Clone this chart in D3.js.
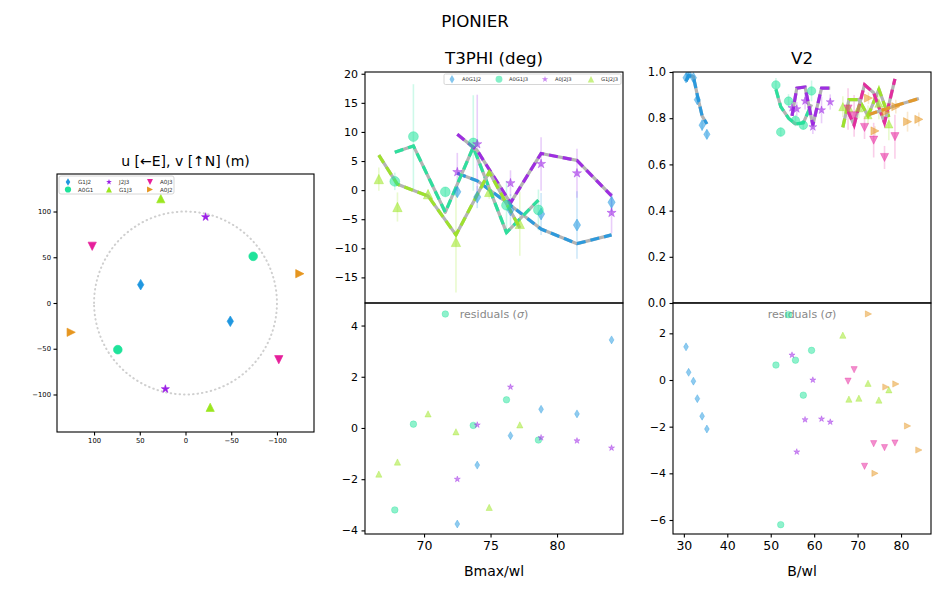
<!DOCTYPE html>
<html>
<head>
<meta charset="utf-8">
<script src="https://cdn.jsdelivr.net/npm/d3@7"></script>
<style>
  body { margin: 0; background: #fff; }
  text { font-family: "DejaVu Sans", sans-serif; }
</style>
</head>
<body>
<svg id="fig" width="950" height="600"></svg>
<script>
// ─── Colours / markers ────────────────────────────────────────────────────────
const BLUE = '#1f97e0', GREEN = '#1fe39a', PURPLE = '#9b1fe6',
      LIME = '#9be61f', PINK = '#e61f9b', ORANGE = '#e6961f';

// ─── uv coverage (m) ──────────────────────────────────────────────────────────
const uvNames   = ['G1J2', 'A0G1', 'J2J3', 'G1J3', 'A0J3', 'A0J2'];
const uvColors  = [BLUE, GREEN, PURPLE, LIME, PINK, ORANGE];
const uvMarkers = ['d', 'o', '*', '^', 'v', '>'];
const uvU = [49, -74, -22, 27, 102, -125];
const uvV = [20, 51, 94, 114, 62, 32];
const uvTicks = [100, 50, 0, -50, -100];

// ─── T3PHI (deg) ──────────────────────────────────────────────────────────────
const t3Names   = ['A0G1J2', 'A0G1J3', 'A0J2J3', 'G1J2J3'];
const t3Colors  = [BLUE, GREEN, PURPLE, LIME];
const t3Markers = ['d', 'o', '*', '^'];
const t3X = [
  [72.5, 74.0, 76.5, 78.8, 81.5, 84.1],
  [67.8, 69.2, 71.6, 73.7, 76.2, 78.6],
  [72.5, 74.0, 76.5, 78.8, 81.5, 84.1],
  [66.6, 68.0, 70.3, 72.4, 74.9, 77.2],
];
const t3Obs = [
  [-0.3, -1.2, -3.4, -4.1, -6.0, -2.1],
  [1.5, 9.2, -0.3, 8.1, -2.6, -3.4],
  [3.1, 7.9, 1.2, 4.5, 2.9, -3.9],
  [1.9, -2.9, -0.7, -8.9, -0.3, -5.8],
];
const t3Err = [
  [0.9, 1.9, 2.7, 3.6, 5.8, 1.6],
  [1.5, 9.0, 0.8, 8.2, 4.2, 3.5],
  [3.3, 8.5, 2.2, 4.6, 4.2, 3.5],
  [2.0, 2.5, 0.8, 8.7, 1.2, 5.5],
];
const t3Model = [
  [2.9, 1.6, -2.6, -6.7, -9.2, -7.7],
  [6.5, 7.6, -3.8, 7.4, -7.3, -1.7],
  [9.6, 6.8, -2.2, 6.3, 5.1, -1.0],
  [6.0, 1.0, -1.0, -7.7, 3.1, -6.5],
];
const t3Res = [
  [-3.75, -1.45, -0.3, 0.73, 0.55, 3.44],
  [-3.2, 0.15, 4.45, 0.1, 1.1, -0.47],
  [-2.0, 0.12, 1.6, -0.38, -0.5, -0.78],
  [-1.8, -1.33, 0.55, -0.15, -3.1, 0.12],
];
const t3YTicks = [20, 15, 10, 5, 0, -5, -10, -15];
const t3ResTicks = [4, 2, 0, -2, -4];
const t3XTicks = [70, 75, 80];

// ─── V2 ───────────────────────────────────────────────────────────────────────
const v2X = [
  [30.5, 31.1, 32.2, 33.1, 34.2, 35.3],
  [51.2, 52.3, 54.1, 55.7, 57.5, 59.4],
  [54.9, 56.0, 57.9, 59.7, 61.7, 63.7],
  [66.6, 68.0, 70.3, 72.4, 74.9, 77.2],
  [67.8, 69.2, 71.6, 73.7, 76.2, 78.6],
  [72.5, 74.0, 76.5, 78.8, 81.5, 84.1],
];
const v2Obs = [
  [0.975, 0.99, 0.975, 0.88, 0.77, 0.73],
  [0.944, 0.74, 0.874, 0.79, 0.77, 0.918],
  [0.845, 0.84, 0.874, 0.762, 0.835, 0.87],
  [0.85, 0.845, 0.845, 0.815, 0.865, 0.775],
  [0.84, 0.81, 0.76, 0.705, 0.63, 0.72],
  [0.887, 0.745, 0.827, 0.85, 0.785, 0.795],
];
const v2Err = [
  [0.01, 0.015, 0.01, 0.02, 0.025, 0.02],
  [0.03, 0.02, 0.03, 0.025, 0.02, 0.045],
  [0.03, 0.03, 0.036, 0.03, 0.057, 0.033],
  [0.045, 0.04, 0.045, 0.04, 0.07, 0.07],
  [0.09, 0.09, 0.05, 0.075, 0.05, 0.095],
  [0.025, 0.02, 0.04, 0.03, 0.043, 0.03],
];
const v2Model = [
  [0.96, 0.985, 0.98, 0.90, 0.81, 0.775],
  [0.925, 0.85, 0.80, 0.775, 0.78, 0.86],
  [0.81, 0.93, 0.935, 0.77, 0.93, 0.93],
  [0.76, 0.88, 0.88, 0.81, 0.925, 0.805],
  [0.83, 0.77, 0.945, 0.91, 0.78, 0.97],
  [0.815, 0.825, 0.84, 0.855, 0.87, 0.885],
];
const v2Res = [
  [1.42, 0.33, -0.05, -0.8, -1.55, -2.1],
  [0.64, -6.2, 2.8, 0.85, -0.65, 1.27],
  [1.07, -3.08, -1.7, 0.0, -1.67, -1.8],
  [1.92, -0.82, -0.78, -0.14, -0.86, -0.42],
  [-0.05, 0.44, -3.7, -2.73, -2.9, -2.7],
  [2.83, -4.0, -0.3, -0.17, -1.97, -3.0],
];
const v2YTicks = [0, 0.2, 0.4, 0.6, 0.8, 1.0];
const v2ResTicks = [2, 0, -2, -4, -6];
const v2XTicks = [30, 40, 50, 60, 70, 80];

// ─── Marker shapes (matplotlib-like) ──────────────────────────────────────────
function markerPath(m, r) {
  switch (m) {
    case 'd': return `M0,${-r}L${0.6 * r},0L0,${r}L${-0.6 * r},0Z`;
    case 'o': return `M${r},0A${r},${r} 0 1,1 ${-r},0A${r},${r} 0 1,1 ${r},0Z`;
    case '^': return `M0,${-r}L${r},${r}L${-r},${r}Z`;
    case 'v': return `M0,${r}L${r},${-r}L${-r},${-r}Z`;
    case '>': return `M${r},0L${-r},${-r}L${-r},${r}Z`;
    case '*': {
      const pts = [];
      for (let i = 0; i < 10; i++) {
        const a = -Math.PI / 2 + i * Math.PI / 5;
        const rr = i % 2 ? r * 0.382 : r;
        pts.push([rr * Math.cos(a), rr * Math.sin(a)]);
      }
      return 'M' + pts.map(p => p.join(',')).join('L') + 'Z';
    }
  }
}
const SIZE_SCALE = { d: 1.0, o: 0.82, '*': 0.8, '^': 0.78, 'v': 0.78, '>': 0.78 };

const svg = d3.select('#fig');

function frame(left, top, w, h) {
  svg.append('rect').attr('x', left).attr('y', top).attr('width', w).attr('height', h)
    .attr('fill', 'none').attr('stroke', '#000').attr('stroke-width', 1.1);
}

function styleAxis(g, size) {
  g.select('.domain').remove();
  g.selectAll('line').attr('stroke', '#000').attr('stroke-width', 1.1);
  g.selectAll('text').attr('font-size', size).attr('fill', '#000')
    .attr('font-family', '"DejaVu Sans", sans-serif');
}

function drawMarkers(g, xs, ys, x, y, m, r, color, opacity) {
  g.append('g').selectAll('path').data(xs.map((d, i) => [d, ys[i]])).join('path')
    .attr('transform', d => `translate(${x(d[0])},${y(d[1])})`)
    .attr('d', markerPath(m, r * SIZE_SCALE[m]))
    .attr('fill', color).attr('fill-opacity', opacity)
    .attr('stroke', color).attr('stroke-opacity', opacity * 0.8).attr('stroke-width', 0.8);
}

function drawModel(g, xs, ys, x, y, color) {
  const line = d3.line().x((d, i) => x(xs[i])).y(d => y(d));
  g.append('path').attr('d', line(ys)).attr('fill', 'none')
    .attr('stroke', '#b4b4b4').attr('stroke-width', 3.2).attr('stroke-linejoin', 'round');
  g.append('path').attr('d', line(ys)).attr('fill', 'none')
    .attr('stroke', color).attr('stroke-width', 3.2).attr('stroke-dasharray', '9,5')
    .attr('stroke-opacity', 0.9);
}

function drawErr(g, xs, ys, es, x, y, color) {
  g.append('g').selectAll('line').data(xs.map((d, i) => [d, ys[i], es[i]])).join('line')
    .attr('x1', d => x(d[0])).attr('x2', d => x(d[0]))
    .attr('y1', d => y(d[1] - d[2])).attr('y2', d => y(d[1] + d[2]))
    .attr('stroke', color).attr('stroke-opacity', 0.22).attr('stroke-width', 1.6);
}

// ─── Suptitle ─────────────────────────────────────────────────────────────────
svg.append('text').attr('x', 475).attr('y', 27).attr('text-anchor', 'middle')
  .attr('font-size', 16.7).text('PIONIER');

// ─── Panel 1: uv plane ────────────────────────────────────────────────────────
{
  const L = 57, T = 174, W = 257, H = 258;
  const x = d3.scaleLinear().domain([140.5, -140.5]).range([L, L + W]);
  const y = d3.scaleLinear().domain([-141, 141]).range([T + H, T]);
  const clip = svg.append('clipPath').attr('id', 'clipUV');
  clip.append('rect').attr('x', L).attr('y', T).attr('width', W).attr('height', H);
  const g = svg.append('g').attr('clip-path', 'url(#clipUV)');

  const circ = d3.range(0, 361, 2).map(a => [100 * Math.cos(a * Math.PI / 180), 100 * Math.sin(a * Math.PI / 180)]);
  g.append('path').attr('d', d3.line().x(d => x(d[0])).y(d => y(d[1]))(circ))
    .attr('fill', 'none').attr('stroke', '#cfcfcf').attr('stroke-width', 2)
    .attr('stroke-dasharray', '0.5,4').attr('stroke-linecap', 'round');

  uvNames.forEach((n, i) => {
    drawMarkers(g, [uvU[i], -uvU[i]], [uvV[i], -uvV[i]], x, y, uvMarkers[i], 5.3, uvColors[i], 1);
  });
  frame(L, T, W, H);

  svg.append('g').attr('transform', `translate(0,${T + H})`)
    .call(d3.axisBottom(x).tickValues(uvTicks).tickSize(3.5).tickPadding(2.5))
    .call(a => styleAxis(a, 6.8));
  svg.append('g').attr('transform', `translate(${L},0)`)
    .call(d3.axisLeft(y).tickValues(uvTicks).tickSize(3.5).tickPadding(2.5))
    .call(a => styleAxis(a, 6.8));

  svg.append('text').attr('x', L + W / 2).attr('y', 166).attr('text-anchor', 'middle')
    .attr('font-size', 14).text('u [\u2190E], v [\u2191N] (m)');

  // legend
  const lg = svg.append('g');
  lg.append('rect').attr('x', 59).attr('y', 176).attr('width', 115).attr('height', 18).attr('rx', 2)
    .attr('fill', '#fff').attr('fill-opacity', 0.8).attr('stroke', '#ccc').attr('stroke-width', 0.8);
  uvNames.forEach((n, i) => {
    const col = Math.floor(i / 2), row = i % 2;
    const mx = 68 + col * 41, my = 182 + row * 7.5;
    lg.append('path').attr('transform', `translate(${mx},${my})`)
      .attr('d', markerPath(uvMarkers[i], 3.8 * SIZE_SCALE[uvMarkers[i]])).attr('fill', uvColors[i]);
    lg.append('text').attr('x', mx + 10).attr('y', my + 2).attr('font-size', 5.6).attr('fill', '#333').text(n);
  });
}

// ─── Generic data/residual panel ──────────────────────────────────────────────
function dataPanel(opt) {
  const L = opt.left, W = 258, T = 72, H1 = 231, T2 = 303, H2 = 231;
  const x = d3.scaleLinear().domain(opt.xDomain).range([L, L + W]);
  const y = d3.scaleLinear().domain(opt.yDomain).range([T + H1, T]);
  const yr = d3.scaleLinear().domain(opt.rDomain).range([T2 + H2, T2]);
  const id = 'clip' + opt.key;
  svg.append('clipPath').attr('id', id + 'a').append('rect')
    .attr('x', L).attr('y', T).attr('width', W).attr('height', H1);
  svg.append('clipPath').attr('id', id + 'b').append('rect')
    .attr('x', L).attr('y', T2).attr('width', W).attr('height', H2);
  const g1 = svg.append('g').attr('clip-path', `url(#${id}a)`);
  const g2 = svg.append('g').attr('clip-path', `url(#${id}b)`);

  if (opt.zeroLine) {
    g1.append('line').attr('x1', L).attr('x2', L + W).attr('y1', y(0)).attr('y2', y(0))
      .attr('stroke', '#bbb').attr('stroke-width', 2);
  }
  opt.xs.forEach((xs, i) => drawErr(g1, xs, opt.obs[i], opt.err[i], x, y, opt.colors[i]));
  opt.xs.forEach((xs, i) => drawModel(g1, xs, opt.model[i], x, y, opt.colors[i]));
  opt.xs.forEach((xs, i) => drawMarkers(g1, xs, opt.obs[i], x, y, opt.markers[i], opt.mSize, opt.colors[i], 0.55));

  g2.append('text').attr('x', L + W / 2).attr('y', 318).attr('text-anchor', 'middle')
    .attr('font-size', 11).attr('fill', '#888')
    .html('residuals (<tspan font-style="italic">\u03c3</tspan>)');
  opt.xs.forEach((xs, i) => drawMarkers(g2, xs, opt.res[i], x, yr, opt.markers[i], opt.rSize, opt.colors[i], 0.5));

  frame(L, T, W, H1);
  frame(L, T2, W, H2);

  svg.append('g').attr('transform', `translate(${L},0)`)
    .call(d3.axisLeft(y).tickValues(opt.yTicks).tickFormat(opt.yFormat).tickSize(3.5).tickPadding(3.5))
    .call(a => styleAxis(a, opt.yFont));
  svg.append('g').attr('transform', `translate(${L},0)`)
    .call(d3.axisLeft(yr).tickValues(opt.rTicks).tickSize(3.5).tickPadding(3.5))
    .call(a => styleAxis(a, opt.rFont));
  svg.append('g').attr('transform', `translate(0,${T2 + H2})`)
    .call(d3.axisBottom(x).tickValues(opt.xTicks).tickSize(3.5).tickPadding(3.5))
    .call(a => styleAxis(a, 12.5));

  svg.append('text').attr('x', L + W / 2).attr('y', 64).attr('text-anchor', 'middle')
    .attr('font-size', 16.7).text(opt.title);
  svg.append('text').attr('x', L + W / 2).attr('y', 576).attr('text-anchor', 'middle')
    .attr('font-size', 14).text(opt.xLabel);
  return { x, y, yr };
}

// ─── Panel 2: T3PHI ───────────────────────────────────────────────────────────
dataPanel({
  key: 't3', left: 365, title: 'T3PHI (deg)', xLabel: 'Bmax/wl',
  xDomain: [65.56, 84.96], yDomain: [-19.4, 20.3], rDomain: [-4.14, 4.88],
  xs: t3X, obs: t3Obs, err: t3Err, model: t3Model, res: t3Res,
  colors: t3Colors, markers: t3Markers, mSize: 6, rSize: 4,
  yTicks: t3YTicks, rTicks: t3ResTicks, xTicks: t3XTicks, yFormat: d3.format('d'),
  yFont: 11, rFont: 11,
});
{
  const lg = svg.append('g');
  lg.append('rect').attr('x', 444).attr('y', 74).attr('width', 177).attr('height', 10.5).attr('rx', 1.5)
    .attr('fill', '#fff').attr('fill-opacity', 0.8).attr('stroke', '#ccc').attr('stroke-width', 0.8);
  const mxs = [452, 499, 545, 591];
  t3Names.forEach((n, i) => {
    lg.append('path').attr('transform', `translate(${mxs[i]},79.3)`)
      .attr('d', markerPath(t3Markers[i], 4.2 * SIZE_SCALE[t3Markers[i]]))
      .attr('fill', t3Colors[i]).attr('fill-opacity', 0.55);
    lg.append('text').attr('x', mxs[i] + 10).attr('y', 81.2).attr('font-size', 5.2).attr('fill', '#333').text(n);
  });
}

// ─── Panel 3: V2 ──────────────────────────────────────────────────────────────
dataPanel({
  key: 'v2', left: 673, title: 'V2', xLabel: 'B/wl', zeroLine: true,
  xDomain: [27.5, 86.9], yDomain: [0, 1], rDomain: [-6.6, 3.3],
  xs: v2X, obs: v2Obs, err: v2Err, model: v2Model, res: v2Res,
  colors: uvColors, markers: uvMarkers, mSize: 5.2, rSize: 4,
  yTicks: v2YTicks, rTicks: v2ResTicks, xTicks: v2XTicks, yFormat: d3.format('.1f'),
  yFont: 11.5, rFont: 11,
});
</script>
</body>
</html>
